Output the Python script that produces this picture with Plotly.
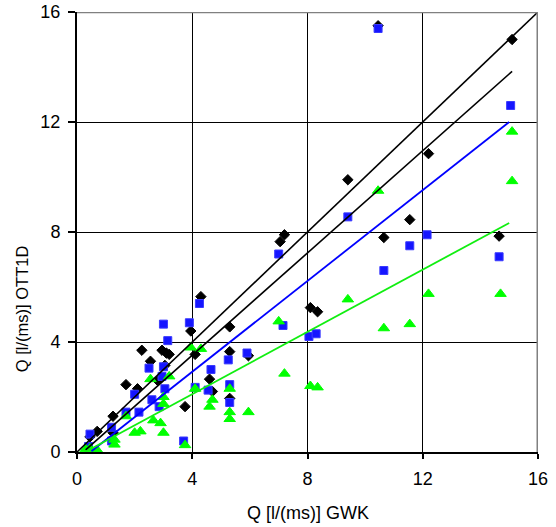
import plotly.graph_objects as go

# Discharge comparison: GWK reference vs. OTT1D current meter, three measurement series
black_x = [15.1, 10.45, 12.2, 9.4, 11.55, 10.65, 14.65, 7.2, 7.05, 4.3, 3.95, 5.3, 8.1, 8.35,
           4.1, 5.3, 5.95, 4.6, 4.7, 5.3, 3.75, 2.25, 2.95, 3.1, 3.2, 2.55, 3.05, 1.7, 2.1,
           2.8, 1.25, 0.7, 0.45, 1.25]
black_y = [15.0, 15.5, 10.85, 9.9, 8.45, 7.8, 7.85, 7.9, 7.65, 5.65, 4.4, 4.55, 5.25, 5.1,
           3.55, 3.65, 3.5, 2.65, 2.2, 1.95, 1.65, 3.7, 3.7, 3.6, 3.55, 3.3, 3.15, 2.45, 2.3,
           2.6, 1.3, 0.75, 0.55, 0.7]

blue_x = [10.45, 15.05, 9.4, 12.15, 11.55, 10.65, 14.65, 7.0, 4.25, 3.9, 7.15, 8.05, 8.3,
          5.9, 5.25, 4.65, 4.1, 4.55, 5.3, 5.3, 3.7, 3.0, 3.15, 2.5, 3.0, 2.95, 3.05, 2.0,
          2.6, 2.85, 2.15, 1.7, 1.2, 1.2, 0.45, 0.4]
blue_y = [15.4, 12.6, 8.55, 7.9, 7.5, 6.6, 7.1, 7.2, 5.4, 4.7, 4.6, 4.2, 4.3,
          3.6, 3.35, 3.0, 2.35, 2.25, 2.45, 1.8, 0.4, 4.65, 4.05, 3.05, 3.1, 2.75, 2.3, 2.1,
          1.9, 1.65, 1.45, 1.45, 0.9, 0.4, 0.65, 0.2]

green_x = [15.1, 15.1, 10.45, 9.4, 12.2, 14.7, 10.65, 11.55, 7.0, 3.95, 4.3, 7.2, 8.1, 8.35,
           4.1, 5.3, 4.7, 4.6, 5.3, 5.3, 5.95, 3.75, 2.55, 3.2, 3.0, 3.0, 2.65, 2.9, 3.0,
           2.2, 2.0, 1.7, 1.3, 1.3, 0.7, 0.45, 0.3]
green_y = [11.65, 9.85, 9.5, 5.55, 5.75, 5.75, 4.5, 4.65, 4.75, 3.8, 3.75, 2.85, 2.4, 2.35,
           2.3, 2.3, 1.9, 1.65, 1.45, 1.2, 1.45, 0.25, 2.65, 2.75, 2.0, 1.75, 1.15, 1.05, 0.7,
           0.75, 0.7, 1.3, 0.45, 0.27, 0.07, 0.13, 0.1]

# Reference and trend lines (start/end points)
diag_x, diag_y = [0, 16], [0, 16]
trend_black_x, trend_black_y = [0.3, 15.1], [0.08, 13.84]
trend_blue_x, trend_blue_y = [0.5, 15.0], [0.03, 12.0]
trend_green_x, trend_green_y = [0.3, 15.0], [0.01, 8.33]

axis_ticks = [0, 4, 8, 12, 16]
x_title = "Q [l/(ms)] GWK"
y_title = "Q [l/(ms)] OTT1D"

FONT = "Liberation Sans, Arial, sans-serif"

fig = go.Figure()

fig.add_trace(go.Scatter(
    x=black_x, y=black_y, mode="markers",
    marker=dict(symbol="diamond", size=8, color="#000000", line=dict(color="#000000", width=1)),
))
fig.add_trace(go.Scatter(
    x=blue_x, y=blue_y, mode="markers",
    marker=dict(symbol="square", size=8, color="#1515ff", line=dict(color="#3a3aff", width=1)),
))
fig.add_trace(go.Scatter(
    x=green_x, y=green_y, mode="markers",
    marker=dict(symbol="triangle-up", size=10, color="#00ff00", line=dict(color="#00ff00", width=1)),
))

fig.add_trace(go.Scatter(x=diag_x, y=diag_y, mode="lines",
                         line=dict(color="#000000", width=1.6)))
fig.add_trace(go.Scatter(x=trend_black_x, y=trend_black_y, mode="lines",
                         line=dict(color="#000000", width=1.6)))
fig.add_trace(go.Scatter(x=trend_blue_x, y=trend_blue_y, mode="lines",
                         line=dict(color="#0000ff", width=1.8)))
fig.add_trace(go.Scatter(x=trend_green_x, y=trend_green_y, mode="lines",
                         line=dict(color="#11ee11", width=1.8)))

axis_common = dict(
    range=[0, 16], tickvals=axis_ticks, ticktext=[str(t) for t in axis_ticks],
    showgrid=True, gridcolor="#000000", gridwidth=1.2,
    zeroline=False, showline=True, linecolor="#000000", linewidth=2,
    ticks="outside", tickcolor="#000000", tickwidth=1.5,
    tickfont=dict(family=FONT, size=18, color="#000000"),
    automargin=False,
)

fig.update_layout(
    width=556, height=527,
    margin=dict(l=77, r=18, t=12, b=75),
    paper_bgcolor="#ffffff", plot_bgcolor="#ffffff",
    showlegend=False,
    xaxis=dict(**axis_common, ticklen=5, ticklabelstandoff=4),
    yaxis=dict(**axis_common, ticklen=7, ticklabelstandoff=4),
    shapes=[
        dict(type="line", xref="x", yref="y", x0=0, x1=16, y0=16, y1=16,
             line=dict(color="#808080", width=2.5), layer="above"),
        dict(type="line", xref="x", yref="y", x0=16, x1=16, y0=0, y1=16,
             line=dict(color="#808080", width=3), layer="above"),
    ],
    annotations=[
        dict(text=x_title, xref="paper", yref="paper", x=0.5, y=-0.139,
             xanchor="center", yanchor="middle", showarrow=False,
             font=dict(family=FONT, size=18, color="#000000")),
        dict(text=y_title, xref="paper", yref="y", x=-0.119, y=5.2,
             xanchor="center", yanchor="middle", textangle=-90, showarrow=False,
             font=dict(family=FONT, size=16.5, color="#000000")),
    ],
)

fig.write_html("out.html")
